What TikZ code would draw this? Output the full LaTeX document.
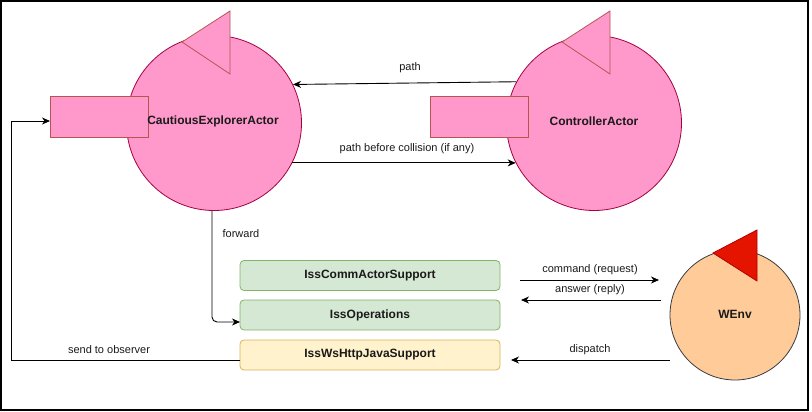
\documentclass[tikz,border=0pt]{standalone}
\usepackage{fontspec}
\setmainfont{Liberation Sans}
\usetikzlibrary{arrows.meta}
\definecolor{pinkfill}{HTML}{FF99CC}
\definecolor{pinkstroke}{HTML}{A50040}
\definecolor{redstroke}{HTML}{B85450}
\definecolor{greenfill}{HTML}{D5E8D4}
\definecolor{greenstroke}{HTML}{82B366}
\definecolor{yellowfill}{HTML}{FFF2CC}
\definecolor{yellowstroke}{HTML}{D6B656}
\definecolor{peachfill}{HTML}{FFCC99}
\definecolor{peachstroke}{HTML}{36393D}
\definecolor{redfill}{HTML}{E51400}
\definecolor{darkred}{HTML}{B20000}
\definecolor{txt}{HTML}{1A1A1A}
\tikzset{
  actor/.style={circle, draw=pinkstroke, fill=pinkfill, line width=0.8pt, minimum size=175pt, inner sep=0pt},
  flagtri/.style={draw=redstroke, fill=pinkfill, line width=0.8pt, line join=miter},
  portbox/.style={rectangle, draw=redstroke, fill=pinkfill, line width=0.8pt, minimum width=98pt, minimum height=41pt, inner sep=0pt},
  bold/.style={font=\fontsize{12}{14}\selectfont\bfseries, text=txt},
  elabel/.style={font=\fontsize{11}{13}\selectfont, text=txt},
  greenbox/.style={rectangle, rounded corners=4pt, draw=greenstroke, fill=greenfill, line width=0.8pt, minimum width=260pt, minimum height=30pt, inner sep=0pt, font=\fontsize{12}{14}\selectfont\bfseries, text=txt},
  yellowbox/.style={greenbox, draw=yellowstroke, fill=yellowfill},
  conn/.style={line width=0.9pt, -{Stealth[length=8pt,width=7pt,inset=2.5pt]}},
  plainconn/.style={line width=0.9pt}
}
\begin{document}
\begin{tikzpicture}[x=1pt,y=-1pt]
\useasboundingbox (0,0) rectangle (812,412);
\draw[line width=1.5pt, black] (1,1) rectangle (808,410);

% CautiousExplorerActor
\node[actor] (c1) at (214,123) {};
\filldraw[flagtri] (230,11) -- (230,74) -- (182,42) -- cycle;
\node[portbox] (r1) at (99,116.5) {};
\node[bold] (c1lab) at (213,121) {CautiousExplorerActor};

% ControllerActor
\node[actor] (c2) at (594,123) {};
\filldraw[flagtri] (610,11) -- (610,74) -- (562,42) -- cycle;
\node[portbox] (r2) at (479,116.5) {};
\node[bold] (c2lab) at (594,121) {ControllerActor};

% WEnv
\node[circle, draw=peachstroke, fill=peachfill, line width=0.8pt, minimum size=130pt, inner sep=0pt] (w) at (735,315) {};
\filldraw[draw=darkred, fill=redfill, line width=0.8pt] (757,230) -- (757,281) -- (713,253) -- cycle;
\node[bold] (wlab) at (735,314) {WEnv};

% boxes
\node[greenbox] (comm) at (370,275.5) {IssCommActorSupport};
\node[greenbox] (ops) at (370,315) {IssOperations};
\node[yellowbox] (ws) at (370,355) {IssWsHttpJavaSupport};

% connectors between actors
\draw[conn] (c2.152) -- (c1.26);
\node[elabel] (lpath) at (410,68) {path};
\draw[conn] (c1.333) -- (c2.207);
\node[elabel] (lpbc) at (407,149) {path before collision (if any)};

% forward
\coordinate (opsin) at (240,322);
\draw[conn, rounded corners=5pt] (c1.south -| 212,0) -- (212,322) -- (opsin);
\node[elabel] (lfwd) at (241,234) {forward};

% send to observer
\coordinate (wsout) at (240,360);
\coordinate (r1in) at (50,121);
\draw[conn] (wsout) -- (11,360) -- (11,121) -- (r1in);
\node[elabel] (lsend) at (109,350) {send to observer};

% WEnv arrows
\coordinate (cmdA) at (520,280);
\coordinate (cmdB) at (659,280);
\draw[conn] (cmdA) -- (cmdB);
\node[elabel] (lcmd) at (590,270) {command (request)};
\coordinate (ansA) at (661,300);
\coordinate (ansB) at (521,300);
\draw[conn] (ansA) -- (ansB);
\node[elabel] (lans) at (590,290) {answer (reply)};
\coordinate (dspB) at (511,360);
\draw[conn] (w.west |- 0,360) -- (dspB);
\node[elabel] (ldsp) at (590,350) {dispatch};
\end{tikzpicture}
\end{document}
